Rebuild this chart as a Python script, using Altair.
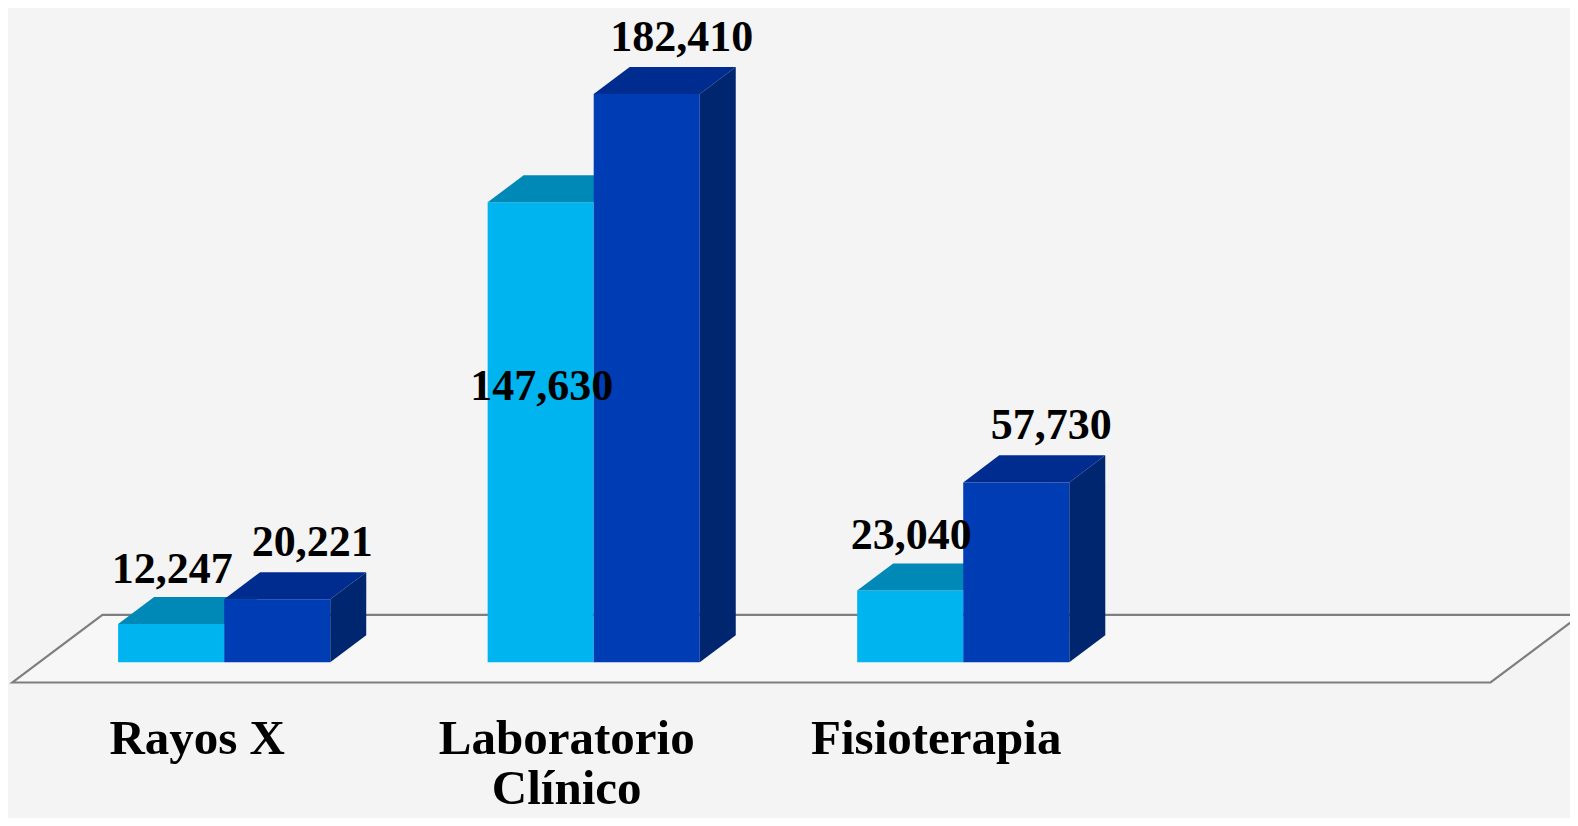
import altair as alt
import pandas as pd

# ---- data ----
categories = ["Rayos X", "Laboratorio\nClínico", "Fisioterapia"]
serie_a = [12247, 147630, 23040]     # light blue bars
serie_b = [20221, 182410, 57730]     # dark blue bars
n_slots = 4                           # floor has room for four categories

# ---- 3D styling constants ----
BW = 0.287        # bar width (category slot units)
DX = 0.0974       # depth, horizontal (slot units)
DY = 8670         # depth, vertical (value units)
FLOOR_FRONT = -0.75
FLOOR_BACK = 1.75
col = {
    "a_front": "#00b4ef", "a_top": "#0089b6",
    "b_front": "#003cb4", "b_top": "#002c90", "b_side": "#002670",
}

XS = alt.Scale(domain=[-0.085, 4.142], nice=False, zero=False)
YS = alt.Scale(domain=[-50000, 210000], nice=False, zero=False)

rects = {"a": [], "b": []}
faces = {"a": [], "b": []}
labels = []
for i, (cat, va, vb) in enumerate(zip(categories, serie_a, serie_b)):
    for key, val, x0 in (("a", va, i + 0.5 - BW), ("b", vb, i + 0.5)):
        x1 = x0 + BW
        rects[key].append(dict(x0=x0, x1=x1, y0=0, y1=val, c=col[key + "_front"]))
        fid = f"{key}{i}top"
        c = col[key + "_top"]
        faces[key] += [
            dict(fid=fid, u=x0, lo=val, hi=val, c=c),
            dict(fid=fid, u=x0 + DX, lo=val, hi=val + DY, c=c),
            dict(fid=fid, u=x1, lo=val, hi=val + DY, c=c),
            dict(fid=fid, u=x1 + DX, lo=val + DY, hi=val + DY, c=c),
        ]
        if key == "b":
            fid = f"{key}{i}side"
            c = col["b_side"]
            faces[key] += [
                dict(fid=fid, u=x1, lo=0, hi=val, c=c),
                dict(fid=fid, u=x1 + DX, lo=DY, hi=val + DY, c=c),
            ]
        inside = key == "a" and val > 100000
        labels.append(dict(
            u=(x0 + x1) / 2 + DX / 2,
            y=(0.48 * val if inside else val) + DY,
            v=val, s=key,
        ))

# floor parallelogram
fl, fr = FLOOR_FRONT, FLOOR_BACK
floor = pd.DataFrame([
    dict(u=fl * DX, lo=fl * DY, hi=fl * DY),
    dict(u=fr * DX, lo=fl * DY, hi=fr * DY),
    dict(u=n_slots + fl * DX, lo=fl * DY, hi=fr * DY),
    dict(u=n_slots + fr * DX, lo=fr * DY, hi=fr * DY),
])

cat_df = pd.DataFrame(dict(u=[i + 0.5 + FLOOR_FRONT * DX for i in range(len(categories))],
                           cat=categories))

floor_layer = alt.Chart(floor).mark_area(
    fill="#f7f7f7", stroke="#7f7f7f", strokeWidth=2.2
).encode(
    x=alt.X("u:Q", scale=XS, axis=None),
    y=alt.Y("lo:Q", scale=YS, axis=None),
    y2="hi:Q",
)


def rect_layer(rows):
    return alt.Chart(pd.DataFrame(rows)).mark_rect().encode(
        x=alt.X("x0:Q", scale=XS, axis=None), x2="x1:Q",
        y=alt.Y("y0:Q", scale=YS, axis=None), y2="y1:Q",
        color=alt.Color("c:N", scale=None),
    )


def face_layer(rows):
    return alt.Chart(pd.DataFrame(rows)).mark_area(interpolate="linear").encode(
        x=alt.X("u:Q", scale=XS, axis=None),
        y=alt.Y("lo:Q", scale=YS, axis=None), y2="hi:Q",
        detail="fid:N",
        color=alt.Color("c:N", scale=None),
    )


lab = pd.DataFrame(labels)
lab_a = alt.Chart(lab[lab.s == "a"]).mark_text(
    font="Liberation Serif", fontWeight="bold", fontSize=44, color="black",
    baseline="alphabetic", dx=-17, dy=-14,
).encode(
    x=alt.X("u:Q", scale=XS, axis=None),
    y=alt.Y("y:Q", scale=YS, axis=None),
    text=alt.Text("v:Q", format=","),
)
lab_b = alt.Chart(lab[lab.s == "b"]).mark_text(
    font="Liberation Serif", fontWeight="bold", fontSize=44, color="black",
    baseline="alphabetic", dx=17, dy=-16,
).encode(
    x=alt.X("u:Q", scale=XS, axis=None),
    y=alt.Y("y:Q", scale=YS, axis=None),
    text=alt.Text("v:Q", format=","),
)

cat_layer = alt.Chart(cat_df).mark_text(
    font="Liberation Serif", fontWeight="bold", fontSize=49, color="black",
    baseline="alphabetic", align="center", lineBreak="\n", lineHeight=50,
).encode(
    x=alt.X("u:Q", scale=XS, axis=None),
    y=alt.value(746),
    text="cat:N",
)

chart = alt.layer(
    floor_layer,
    rect_layer(rects["a"]), face_layer(faces["a"]),
    rect_layer(rects["b"]), face_layer(faces["b"]),
    lab_a, lab_b, cat_layer,
).properties(
    width=1562, height=810, padding=0, autosize="none", background="#f4f4f4",
).configure_view(stroke=None)

chart.save("out.html", embed_options={"renderer": "svg", "actions": False})
